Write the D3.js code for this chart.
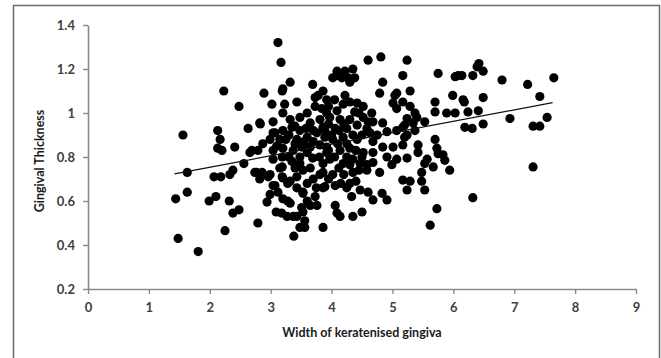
<!DOCTYPE html>
<html>
<head>
<meta charset="utf-8">
<script src="https://cdn.jsdelivr.net/npm/d3@7"></script>
<style>
  body { margin: 0; background: #fff; }
  svg { display: block; }
</style>
</head>
<body>
<svg id="chart" width="661" height="358"></svg>
<script>
// width of keratenised gingiva (x) vs gingival thickness (y)
const points = [
  [1.56,0.90],[1.63,0.73],[1.44,0.61],[1.63,0.64],[1.48,0.43],[1.81,0.37],[1.99,0.60],[2.10,0.62],
  [2.07,0.71],[2.18,0.71],[3.12,1.32],[3.17,1.23],[2.23,1.10],[2.48,1.03],[2.89,1.09],[3.19,1.10],
  [3.32,1.14],[3.43,1.05],[3.02,1.04],[3.23,1.04],[3.20,1.00],[2.13,0.92],[2.17,0.88],[2.13,0.84],
  [2.20,0.83],[2.41,0.845],[2.63,0.93],[2.83,0.95],[3.04,0.96],[2.69,0.83],[2.79,0.83],[2.87,0.86],
  [3.04,0.91],[2.56,0.77],[2.33,0.72],[2.38,0.74],[2.32,0.60],[2.38,0.545],[2.48,0.56],[2.25,0.465],
  [2.79,0.50],[3.38,0.44],[2.77,0.73],[2.82,0.70],[2.96,0.71],[2.94,0.595],[3.09,0.55],[3.18,0.545],
  [3.27,0.53],[3.37,0.53],[3.48,0.48],[3.56,0.48],[2.99,0.63],[3.12,0.64],[3.20,0.61],[3.28,0.60],
  [3.43,0.66],[3.53,0.64],[3.07,0.67],[3.19,0.755],[3.19,0.71],[3.28,0.68],[3.43,0.71],[3.53,0.74],
  [3.60,0.60],[3.51,0.57],[3.43,0.53],[3.56,0.51],[3.20,1.11],[3.69,1.13],[3.78,1.08],[3.73,1.03],
  [3.84,1.02],[3.60,1.00],[3.48,0.98],[3.32,0.97],[2.82,0.955],[3.07,0.91],[3.20,0.92],[3.35,0.935],
  [3.48,0.92],[3.65,0.955],[3.81,0.97],[3.92,1.00],[2.99,0.88],[3.15,0.88],[3.43,0.88],[3.60,0.89],
  [3.76,0.91],[3.89,0.92],[2.66,0.82],[3.04,0.83],[3.20,0.84],[3.37,0.83],[3.51,0.845],[3.65,0.845],
  [3.81,0.855],[3.92,0.82],[3.04,0.79],[3.19,0.80],[3.35,0.78],[3.48,0.80],[3.69,0.795],[3.86,0.77],
  [2.74,0.73],[2.86,0.73],[2.99,0.72],[3.15,0.75],[3.20,0.705],[3.32,0.69],[3.04,0.67],[3.53,0.635],
  [3.73,0.62],[3.48,0.77],[3.65,0.75],[3.81,0.72],[3.89,0.665],[3.32,0.59],[3.53,0.55],[3.65,0.58],
  [3.76,0.58],[3.86,0.48],[4.09,1.17],[4.27,1.16],[4.38,1.16],[4.30,1.14],[5.17,1.17],[4.84,1.14],
  [4.79,1.09],[5.29,1.10],[5.04,1.08],[5.17,1.05],[5.01,1.045],[5.07,1.02],[5.29,1.03],[5.37,1.00],
  [3.86,1.10],[3.92,1.06],[4.22,1.08],[4.30,1.05],[4.19,1.04],[4.42,1.045],[4.52,1.03],[4.38,1.005],
  [4.52,0.98],[4.66,1.00],[4.68,0.96],[4.84,0.955],[4.09,1.01],[3.97,0.98],[4.14,0.97],[4.30,0.97],
  [3.86,0.935],[4.06,0.93],[4.25,0.93],[4.42,0.945],[4.58,0.93],[4.63,0.91],[4.91,0.915],[5.07,0.92],
  [5.20,0.945],[5.34,0.955],[5.24,0.90],[3.89,0.89],[4.02,0.88],[4.19,0.89],[4.35,0.90],[4.42,0.88],
  [4.68,0.87],[4.84,0.845],[5.01,0.845],[5.17,0.855],[3.92,0.845],[4.14,0.83],[4.30,0.84],[4.52,0.82],
  [4.68,0.82],[4.91,0.80],[5.07,0.79],[5.24,0.795],[3.97,0.79],[4.19,0.77],[4.35,0.79],[4.58,0.765],
  [3.86,0.73],[4.02,0.72],[4.30,0.765],[4.47,0.77],[4.35,0.73],[4.58,0.74],[4.79,0.73],[4.68,0.775],
  [4.99,0.765],[5.17,0.695],[5.29,0.69],[5.24,0.65],[4.06,0.67],[3.86,0.66],[4.25,0.66],[4.33,0.62],
  [4.47,0.65],[4.60,0.64],[4.68,0.605],[4.83,0.635],[4.91,0.605],[4.06,0.58],[4.09,0.545],[4.14,0.53],
  [4.35,0.53],[4.50,0.55],[4.60,1.24],[4.81,1.255],[5.24,1.24],[4.09,1.19],[4.22,1.19],[4.35,1.20],
  [4.02,1.16],[4.17,1.16],[3.73,1.07],[5.07,1.09],[5.75,1.18],[6.03,1.165],[6.08,1.17],[5.99,1.08],
  [5.70,1.05],[6.16,1.06],[5.70,1.005],[5.89,1.00],[6.03,1.00],[6.19,0.935],[5.53,0.96],[5.40,0.98],
  [5.24,0.975],[5.17,0.935],[5.37,0.92],[5.20,0.89],[5.70,0.88],[5.42,0.855],[5.73,0.84],[5.83,0.81],
  [6.14,1.17],[6.32,1.17],[6.39,1.21],[6.42,1.225],[6.49,1.19],[6.80,1.15],[7.22,1.13],[7.65,1.16],
  [7.42,1.075],[6.18,1.05],[6.49,1.07],[6.41,1.01],[6.24,1.005],[6.93,0.975],[7.54,0.98],[7.31,0.94],
  [7.42,0.94],[6.49,0.95],[6.31,0.93],[7.31,0.755],[6.32,0.615],[5.42,0.82],[5.57,0.79],[5.67,0.755],
  [5.53,0.77],[5.48,0.73],[5.48,0.69],[5.53,0.65],[5.73,0.565],[5.62,0.49],[5.86,0.785],[5.94,0.74],
  [5.75,0.815],
  // overlapping dots in the dense core
  [3.30,0.90],[3.40,0.86],[3.55,0.87],[3.70,0.87],[3.58,0.93],[3.70,0.92],[3.95,0.95],[4.00,0.90],
  [4.10,0.86],[4.25,0.86],[4.20,0.95],[4.12,0.92],[3.80,0.80],[3.95,0.83],[4.05,0.80],[4.25,0.80],
  [4.40,0.83],[4.50,0.80],[4.45,0.74],[4.20,0.72],[4.12,0.75],[3.95,0.70],[4.15,0.68],[4.40,0.69],
  [3.70,0.70],[3.60,0.68],[3.75,0.66],[3.40,0.75],[3.30,0.80],[3.60,0.82],[3.95,1.03],[4.05,1.06],
  [4.45,1.00],[4.60,0.96],[4.50,0.90],[4.75,0.90],[3.25,0.88],[3.10,0.85],[3.40,0.94],[4.30,0.68]
]

// linear trend line end points
const trendX = [1.42, 7.63]
const trendY = [0.723, 1.047]

const xTicks = [0, 1, 2, 3, 4, 5, 6, 7, 8, 9]
const yTicks = [0.2, 0.4, 0.6, 0.8, 1, 1.2, 1.4]

const xTitle = 'Width of keratenised gingiva'
const yTitle = 'Gingival Thickness'

const svg = d3.select('#chart')

// outer frame
svg.append('rect')
    .attr('x', 13.5).attr('y', 5.5)
    .attr('width', 646).attr('height', 370)
    .attr('fill', '#fff')
    .attr('stroke', '#6a6a6a')
    .attr('stroke-width', 1.5)

const x = d3.scaleLinear().domain([0, 9]).range([88, 636])
const y = d3.scaleLinear().domain([0.2, 1.4]).range([289, 25])

const font = 'Lato, "Open Sans", sans-serif'

// axes
const xAxis = svg.append('g')
    .attr('transform', 'translate(0,' + y(0.2) + ')')
    .call(d3.axisBottom(x).tickValues(xTicks).tickSize(5).tickPadding(9).tickSizeOuter(0).tickFormat(d3.format('d')))

const yAxis = svg.append('g')
    .attr('transform', 'translate(' + x(0) + ',0)')
    .call(d3.axisLeft(y).tickValues(yTicks).tickSize(5).tickPadding(8).tickSizeOuter(0).tickFormat(d => String(d)))

for (const ax of [xAxis, yAxis]) {
    ax.select('.domain').attr('stroke', '#8a8a8a').attr('stroke-width', 1.6)
    ax.selectAll('.tick line').attr('stroke', '#8a8a8a').attr('stroke-width', 1.4)
    ax.selectAll('.tick text')
        .attr('fill', '#404040')
        .style('font-family', font)
        .style('font-size', '13px')
        .style('font-weight', 'bold')
}

// dots
svg.append('g')
    .selectAll('circle')
    .data(points)
    .join('circle')
    .attr('cx', d => x(d[0]))
    .attr('cy', d => y(d[1]))
    .attr('r', 4.6)
    .attr('fill', '#000')

// trend line
svg.append('line')
    .attr('x1', x(trendX[0])).attr('y1', y(trendY[0]))
    .attr('x2', x(trendX[1])).attr('y2', y(trendY[1]))
    .attr('stroke', '#111')
    .attr('stroke-width', 1.3)

// titles
svg.append('text')
    .attr('x', (x(0) + x(9)) / 2)
    .attr('y', 337)
    .attr('text-anchor', 'middle')
    .attr('fill', '#1a1a1a')
    .style('font-family', font)
    .style('font-size', '12.5px')
    .style('font-weight', 'bold')
    .text(xTitle)

svg.append('text')
    .attr('transform', 'translate(44,161) rotate(-90)')
    .attr('text-anchor', 'middle')
    .attr('fill', '#1a1a1a')
    .style('font-family', font)
    .style('font-size', '12.5px')
    .style('font-weight', 'bold')
    .text(yTitle)
</script>
</body>
</html>
